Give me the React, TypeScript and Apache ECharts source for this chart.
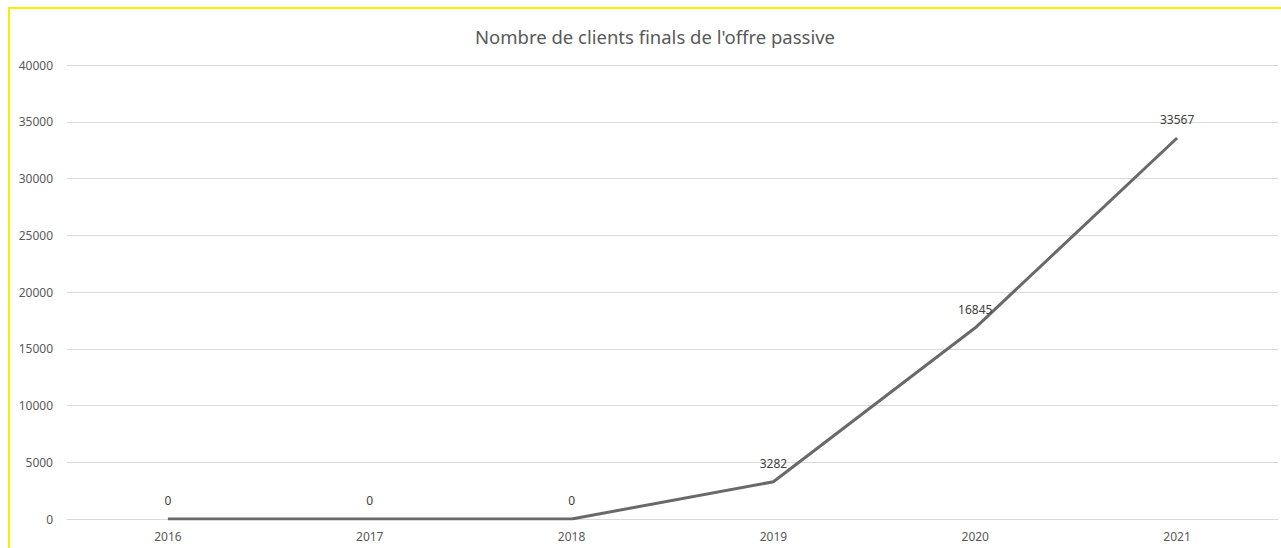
import React, { useEffect, useRef } from "react";
import * as echarts from "echarts";

const years = ["2016", "2017", "2018", "2019", "2020", "2021"];
const clients = [0, 0, 0, 3282, 16845, 33567];
const titleText = "Nombre de clients finals de l'offre passive";

export default function App() {
  const ref = useRef<HTMLDivElement>(null);
  useEffect(() => {
    if (!ref.current) return;
    const chart = echarts.init(ref.current, null, { renderer: "svg" });
    const font = "'Noto Sans', 'Liberation Sans', sans-serif";
    chart.setOption({
      animation: false,
      backgroundColor: "#ffffff",
      textStyle: { fontFamily: font },
      title: {
        text: titleText,
        left: 650,
        top: 22,
        textAlign: "center",
        textStyle: { fontSize: 18.5, fontWeight: "normal", color: "#595959", fontFamily: font },
      },
      graphic: [
        {
          type: "rect",
          shape: { x: 9, y: 8, width: 1300, height: 600 },
          style: { fill: "none", stroke: "#f2f200", lineWidth: 2 },
          silent: true,
        },
      ],
      grid: { left: 67, right: 3, top: 65, bottom: 29, containLabel: false },
      xAxis: {
        type: "category",
        data: years,
        boundaryGap: true,
        axisLine: { show: true, lineStyle: { color: "#d9d9d9", width: 1 } },
        axisTick: { show: false },
        axisLabel: { color: "#595959", fontSize: 12, margin: 11, fontFamily: font },
        splitLine: { show: false },
      },
      yAxis: {
        type: "value",
        min: 0,
        max: 40000,
        interval: 5000,
        axisLine: { show: false },
        axisTick: { show: false },
        axisLabel: {
          color: "#595959",
          fontSize: 12,
          margin: 14,
          fontFamily: font,
          formatter: (v: number) => String(v),
        },
        splitLine: { show: true, lineStyle: { color: "#d9d9d9", width: 1 } },
      },
      series: [
        {
          type: "line",
          data: clients,
          showSymbol: true,
          symbol: "circle",
          symbolSize: 1,
          lineStyle: { color: "#696969", width: 3 },
          itemStyle: { color: "rgba(0,0,0,0)", borderWidth: 0 },
          label: {
            show: true,
            position: "top",
            distance: 12,
            color: "#404040",
            fontSize: 12,
            fontFamily: font,
            formatter: (p: any) => String(p.value),
          },
        },
      ],
    });
    return () => chart.dispose();
  }, []);
  return (
    <div
      ref={ref}
      style={{ position: "fixed", left: 0, top: 0, width: 1281, height: 548 }}
    />
  );
}
